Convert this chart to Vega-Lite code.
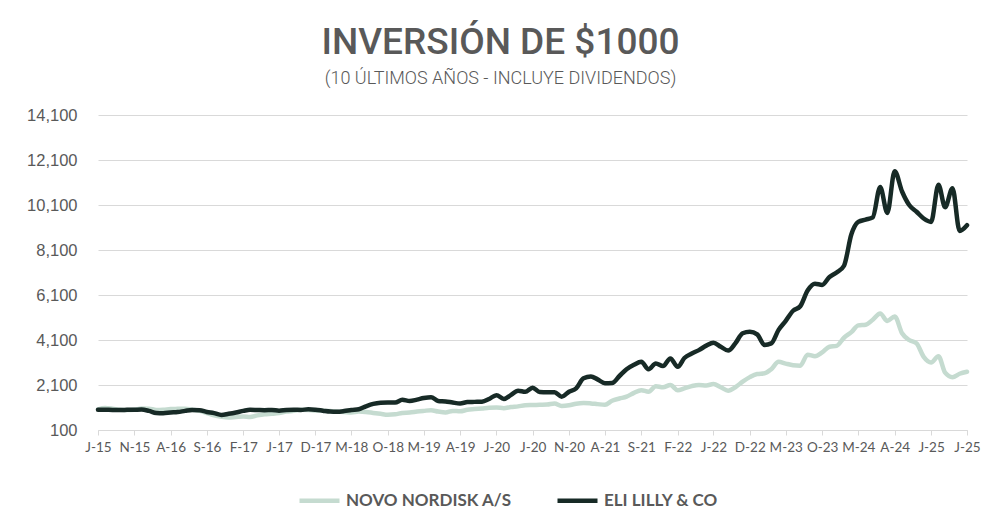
{
  "$schema": "https://vega.github.io/schema/vega-lite/v6.json",
  "width": 869,
  "height": 315,
  "autosize": "none",
  "padding": {"left": 98, "top": 115, "right": 33, "bottom": 92},
  "background": "white",
  "title": {
    "text": "INVERSIÓN DE $1000",
    "subtitle": "(10 ÚLTIMOS AÑOS - INCLUYE DIVIDENDOS)",
    "anchor": "middle",
    "frame": "group",
    "dx": -32,
    "offset": 18,
    "font": "Roboto",
    "fontSize": 37,
    "fontWeight": 500,
    "color": "#595959",
    "subtitleFont": "Roboto",
    "subtitleFontSize": 18,
    "subtitleFontWeight": 300,
    "subtitleColor": "#595959",
    "subtitlePadding": 8
  },
  "data": {
    "values": [
      {"date": "2015-06-01", "n": 1020, "l": 1000},
      {"date": "2015-07-01", "n": 1080, "l": 1000},
      {"date": "2015-08-01", "n": 1050, "l": 990},
      {"date": "2015-09-01", "n": 1000, "l": 990},
      {"date": "2015-10-01", "n": 990, "l": 995},
      {"date": "2015-11-01", "n": 1000, "l": 1000},
      {"date": "2015-12-01", "n": 1060, "l": 1010},
      {"date": "2016-01-01", "n": 1050, "l": 950},
      {"date": "2016-02-01", "n": 990, "l": 860},
      {"date": "2016-03-01", "n": 1000, "l": 850},
      {"date": "2016-04-01", "n": 1030, "l": 880},
      {"date": "2016-05-01", "n": 1040, "l": 900},
      {"date": "2016-06-01", "n": 1050, "l": 950},
      {"date": "2016-07-01", "n": 1000, "l": 990},
      {"date": "2016-08-01", "n": 950, "l": 980},
      {"date": "2016-09-01", "n": 850, "l": 900},
      {"date": "2016-10-01", "n": 750, "l": 850},
      {"date": "2016-11-01", "n": 690, "l": 770},
      {"date": "2016-12-01", "n": 660, "l": 820},
      {"date": "2017-01-01", "n": 680, "l": 880},
      {"date": "2017-02-01", "n": 700, "l": 950},
      {"date": "2017-03-01", "n": 680, "l": 1000},
      {"date": "2017-04-01", "n": 750, "l": 990},
      {"date": "2017-05-01", "n": 800, "l": 980},
      {"date": "2017-06-01", "n": 820, "l": 990},
      {"date": "2017-07-01", "n": 850, "l": 960},
      {"date": "2017-08-01", "n": 920, "l": 990},
      {"date": "2017-09-01", "n": 950, "l": 1000},
      {"date": "2017-10-01", "n": 1000, "l": 990},
      {"date": "2017-11-01", "n": 990, "l": 1020},
      {"date": "2017-12-01", "n": 970, "l": 1000},
      {"date": "2018-01-01", "n": 960, "l": 960},
      {"date": "2018-02-01", "n": 940, "l": 920},
      {"date": "2018-03-01", "n": 920, "l": 910},
      {"date": "2018-04-01", "n": 900, "l": 940},
      {"date": "2018-05-01", "n": 880, "l": 990},
      {"date": "2018-06-01", "n": 920, "l": 1020},
      {"date": "2018-07-01", "n": 900, "l": 1150},
      {"date": "2018-08-01", "n": 860, "l": 1260},
      {"date": "2018-09-01", "n": 820, "l": 1310},
      {"date": "2018-10-01", "n": 780, "l": 1320},
      {"date": "2018-11-01", "n": 800, "l": 1320},
      {"date": "2018-12-01", "n": 860, "l": 1440},
      {"date": "2019-01-01", "n": 880, "l": 1390},
      {"date": "2019-02-01", "n": 920, "l": 1450},
      {"date": "2019-03-01", "n": 950, "l": 1520},
      {"date": "2019-04-01", "n": 980, "l": 1560},
      {"date": "2019-05-01", "n": 920, "l": 1390},
      {"date": "2019-06-01", "n": 880, "l": 1370},
      {"date": "2019-07-01", "n": 950, "l": 1320},
      {"date": "2019-08-01", "n": 930, "l": 1280},
      {"date": "2019-09-01", "n": 1000, "l": 1340},
      {"date": "2019-10-01", "n": 1030, "l": 1350},
      {"date": "2019-11-01", "n": 1060, "l": 1360},
      {"date": "2019-12-01", "n": 1090, "l": 1480},
      {"date": "2020-01-01", "n": 1100, "l": 1650},
      {"date": "2020-02-01", "n": 1070, "l": 1480},
      {"date": "2020-03-01", "n": 1120, "l": 1650},
      {"date": "2020-04-01", "n": 1150, "l": 1850},
      {"date": "2020-05-01", "n": 1200, "l": 1800},
      {"date": "2020-06-01", "n": 1210, "l": 1980},
      {"date": "2020-07-01", "n": 1220, "l": 1790},
      {"date": "2020-08-01", "n": 1230, "l": 1780},
      {"date": "2020-09-01", "n": 1280, "l": 1780},
      {"date": "2020-10-01", "n": 1170, "l": 1580},
      {"date": "2020-11-01", "n": 1200, "l": 1800},
      {"date": "2020-12-01", "n": 1270, "l": 1950},
      {"date": "2021-01-01", "n": 1300, "l": 2400},
      {"date": "2021-02-01", "n": 1280, "l": 2480},
      {"date": "2021-03-01", "n": 1250, "l": 2350},
      {"date": "2021-04-01", "n": 1220, "l": 2180},
      {"date": "2021-05-01", "n": 1400, "l": 2190},
      {"date": "2021-06-01", "n": 1500, "l": 2500},
      {"date": "2021-07-01", "n": 1580, "l": 2800},
      {"date": "2021-08-01", "n": 1750, "l": 3000},
      {"date": "2021-09-01", "n": 1870, "l": 3130},
      {"date": "2021-10-01", "n": 1800, "l": 2800},
      {"date": "2021-11-01", "n": 2050, "l": 3060},
      {"date": "2021-12-01", "n": 2000, "l": 2940},
      {"date": "2022-01-01", "n": 2100, "l": 3280},
      {"date": "2022-02-01", "n": 1870, "l": 2910},
      {"date": "2022-03-01", "n": 1950, "l": 3300},
      {"date": "2022-04-01", "n": 2050, "l": 3500},
      {"date": "2022-05-01", "n": 2100, "l": 3650},
      {"date": "2022-06-01", "n": 2080, "l": 3850},
      {"date": "2022-07-01", "n": 2140, "l": 3980},
      {"date": "2022-08-01", "n": 2000, "l": 3800},
      {"date": "2022-09-01", "n": 1850, "l": 3630},
      {"date": "2022-10-01", "n": 2000, "l": 3950},
      {"date": "2022-11-01", "n": 2250, "l": 4400},
      {"date": "2022-12-01", "n": 2450, "l": 4470},
      {"date": "2023-01-01", "n": 2590, "l": 4350},
      {"date": "2023-02-01", "n": 2620, "l": 3880},
      {"date": "2023-03-01", "n": 2800, "l": 3950},
      {"date": "2023-04-01", "n": 3130, "l": 4550},
      {"date": "2023-05-01", "n": 3050, "l": 4950},
      {"date": "2023-06-01", "n": 2980, "l": 5400},
      {"date": "2023-07-01", "n": 2960, "l": 5600},
      {"date": "2023-08-01", "n": 3450, "l": 6300},
      {"date": "2023-09-01", "n": 3380, "l": 6600},
      {"date": "2023-10-01", "n": 3550, "l": 6550},
      {"date": "2023-11-01", "n": 3800, "l": 6900},
      {"date": "2023-12-01", "n": 3840, "l": 7100},
      {"date": "2024-01-01", "n": 4200, "l": 7400},
      {"date": "2024-02-01", "n": 4450, "l": 8800},
      {"date": "2024-03-01", "n": 4750, "l": 9350},
      {"date": "2024-04-01", "n": 4780, "l": 9450},
      {"date": "2024-05-01", "n": 5000, "l": 9550},
      {"date": "2024-06-01", "n": 5280, "l": 10900},
      {"date": "2024-07-01", "n": 4950, "l": 9750},
      {"date": "2024-08-01", "n": 5150, "l": 11600},
      {"date": "2024-09-01", "n": 4400, "l": 10700},
      {"date": "2024-10-01", "n": 4100, "l": 10100},
      {"date": "2024-11-01", "n": 3950, "l": 9800},
      {"date": "2024-12-01", "n": 3350, "l": 9500},
      {"date": "2025-01-01", "n": 3100, "l": 9350},
      {"date": "2025-02-01", "n": 3380, "l": 11000},
      {"date": "2025-03-01", "n": 2650, "l": 10000},
      {"date": "2025-04-01", "n": 2450, "l": 10850},
      {"date": "2025-05-01", "n": 2600, "l": 8950},
      {"date": "2025-06-01", "n": 2690, "l": 9200}
    ]
  },
  "transform": [
    {"fold": ["n", "l"], "as": ["key", "valor"]}
  ],
  "encoding": {
    "x": {
      "field": "date",
      "type": "temporal",
      "scale": {"type": "utc", "domain": [{"year": 2015, "month": 6, "date": 1, "utc": true}, {"year": 2025, "month": 6, "date": 1, "utc": true}]},
      "axis": {
        "title": null,
        "values": [
          {"year": 2015, "month": 6, "date": 1, "utc": true},
          {"year": 2015, "month": 11, "date": 1, "utc": true},
          {"year": 2016, "month": 4, "date": 1, "utc": true},
          {"year": 2016, "month": 9, "date": 1, "utc": true},
          {"year": 2017, "month": 2, "date": 1, "utc": true},
          {"year": 2017, "month": 7, "date": 1, "utc": true},
          {"year": 2017, "month": 12, "date": 1, "utc": true},
          {"year": 2018, "month": 5, "date": 1, "utc": true},
          {"year": 2018, "month": 10, "date": 1, "utc": true},
          {"year": 2019, "month": 3, "date": 1, "utc": true},
          {"year": 2019, "month": 8, "date": 1, "utc": true},
          {"year": 2020, "month": 1, "date": 1, "utc": true},
          {"year": 2020, "month": 6, "date": 1, "utc": true},
          {"year": 2020, "month": 11, "date": 1, "utc": true},
          {"year": 2021, "month": 4, "date": 1, "utc": true},
          {"year": 2021, "month": 9, "date": 1, "utc": true},
          {"year": 2022, "month": 2, "date": 1, "utc": true},
          {"year": 2022, "month": 7, "date": 1, "utc": true},
          {"year": 2022, "month": 12, "date": 1, "utc": true},
          {"year": 2023, "month": 5, "date": 1, "utc": true},
          {"year": 2023, "month": 10, "date": 1, "utc": true},
          {"year": 2024, "month": 3, "date": 1, "utc": true},
          {"year": 2024, "month": 8, "date": 1, "utc": true},
          {"year": 2025, "month": 1, "date": 1, "utc": true},
          {"year": 2025, "month": 6, "date": 1, "utc": true}
        ],
        "labelExpr": "slice(utcFormat(datum.value, '%b'), 0, 1) + '-' + utcFormat(datum.value, '%y')",
        "labelFont": "Lato",
        "labelFontSize": 13.5,
        "labelColor": "#595959",
        "labelPadding": 5,
        "labelOverlap": false,
        "labelFlush": false,
        "grid": false,
        "domainColor": "#d9d9d9",
        "tickColor": "#d9d9d9",
        "tickSize": 5
      }
    },
    "y": {
      "field": "valor",
      "type": "quantitative",
      "scale": {"domain": [100, 14100], "nice": false, "zero": false},
      "axis": {
        "title": null,
        "values": [100, 2100, 4100, 6100, 8100, 10100, 12100, 14100],
        "format": ",.0f",
        "labelFont": "Liberation Sans",
        "labelFontSize": 16.5,
        "labelColor": "#595959",
        "labelPadding": 21,
        "domain": false,
        "ticks": false,
        "grid": true,
        "gridColor": "#d9d9d9",
        "gridWidth": 1
      }
    },
    "color": {
      "field": "key",
      "type": "nominal",
      "scale": {"domain": ["n", "l"], "range": ["#c5dbd0", "#172a26"]},
      "legend": {
        "title": null,
        "orient": "none",
        "legendX": 199,
        "legendY": 363,
        "direction": "horizontal",
        "labelExpr": "datum.value == 'n' ? 'NOVO NORDISK A/S' : 'ELI LILLY & CO'",
        "symbolType": "stroke",
        "symbolSize": 1600,
        "symbolStrokeWidth": 4.5,
        "labelFont": "Lato",
        "labelFontSize": 17,
        "labelFontWeight": "bold",
        "labelColor": "#595959",
        "labelOffset": 4,
        "labelLimit": 400,
        "columnPadding": 36
      }
    },
    "order": {"field": "key", "sort": "descending"}
  },
  "mark": {"type": "line", "interpolate": "monotone", "strokeWidth": 4.5, "strokeCap": "round", "strokeJoin": "round"},
  "config": {"view": {"stroke": null}}
}
